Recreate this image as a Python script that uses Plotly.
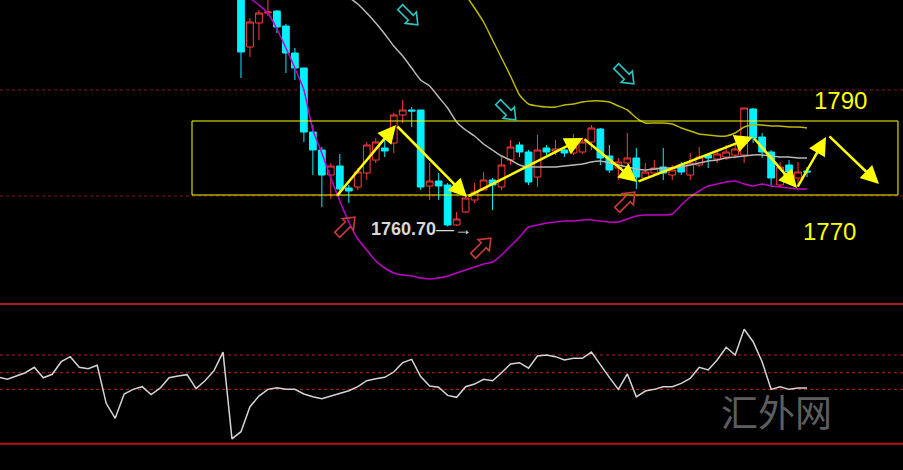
import math
import plotly.graph_objects as go

# ---------------- data ----------------
candle_idx = list(range(64))
opens = [1809.0, 1796.6, 1801.4, 1803.4, 1803.8, 1800.8, 1795.4, 1792.4, 1779.6, 1776.0,
         1771.0, 1772.8, 1768.4, 1768.6, 1771.4, 1774.0, 1776.4, 1777.4, 1783.0, 1784.0,
         1784.0, 1768.8, 1769.8, 1769.0, 1761.0, 1763.6, 1766.0, 1768.0, 1770.0, 1768.6,
         1774.0, 1777.0, 1775.6, 1770.6, 1776.4, 1775.8, 1776.0, 1775.4, 1775.6, 1777.6,
         1780.2, 1774.8, 1772.4, 1773.4, 1774.4, 1770.4, 1771.4, 1772.6, 1771.0, 1773.0,
         1771.0, 1773.0, 1775.0, 1774.2, 1774.6, 1775.0, 1775.0, 1784.2, 1778.6, 1775.6,
         1769.0, 1773.0, 1770.4, 1771.8]
highs = [1810.0, 1802.4, 1804.0, 1806.0, 1804.0, 1801.2, 1796.4, 1792.4, 1781.0, 1776.6,
         1773.4, 1775.2, 1769.0, 1772.4, 1777.6, 1778.4, 1778.0, 1783.4, 1786.0, 1784.6,
         1784.0, 1773.4, 1771.4, 1769.4, 1763.6, 1767.0, 1769.4, 1771.6, 1770.4, 1774.6,
         1778.0, 1777.6, 1776.0, 1779.0, 1777.0, 1778.0, 1776.6, 1779.2, 1778.4, 1781.0,
         1780.4, 1777.0, 1774.4, 1779.4, 1776.4, 1773.4, 1774.0, 1776.4, 1773.0, 1773.6,
         1775.4, 1776.6, 1775.0, 1776.0, 1777.0, 1777.0, 1784.4, 1784.4, 1779.4, 1776.0,
         1773.6, 1774.0, 1773.6, 1772.6]
lows = [1790.4, 1794.6, 1798.0, 1802.8, 1799.4, 1791.4, 1790.0, 1777.6, 1771.0, 1764.6,
        1766.2, 1767.0, 1765.4, 1768.0, 1770.0, 1773.4, 1774.6, 1775.4, 1781.4, 1780.6,
        1768.0, 1766.0, 1766.0, 1760.7, 1760.8, 1763.4, 1765.4, 1768.0, 1764.0, 1768.0,
        1773.0, 1774.6, 1769.0, 1768.6, 1775.0, 1775.0, 1774.6, 1775.0, 1775.2, 1776.0,
        1773.0, 1771.4, 1770.0, 1770.6, 1768.2, 1770.0, 1771.0, 1770.0, 1770.0, 1771.0,
        1770.0, 1772.6, 1772.4, 1773.4, 1774.0, 1774.4, 1773.4, 1777.4, 1774.4, 1769.0,
        1768.6, 1770.4, 1768.6, 1770.6]
closes = [1795.6, 1801.6, 1803.4, 1803.6, 1800.6, 1795.4, 1792.4, 1779.6, 1776.0, 1771.0,
          1772.8, 1768.2, 1767.8, 1771.6, 1777.0, 1777.6, 1775.8, 1783.0, 1784.0, 1783.8,
          1768.6, 1769.8, 1768.8, 1761.0, 1762.2, 1766.4, 1767.6, 1770.0, 1769.0, 1773.0,
          1776.6, 1775.6, 1769.6, 1776.0, 1775.6, 1776.2, 1775.4, 1776.6, 1777.6, 1780.4,
          1774.4, 1772.0, 1773.6, 1774.4, 1770.6, 1771.6, 1772.4, 1771.4, 1772.0, 1771.6,
          1773.4, 1774.6, 1774.4, 1775.2, 1775.6, 1776.2, 1784.4, 1778.4, 1775.6, 1770.4,
          1772.6, 1771.6, 1771.6, 1771.6]

ma_idx = list(range(11, 64))
ma_vals = [1808.6, 1806.6, 1805.2, 1803.4, 1801.4, 1799.2, 1796.8, 1794.8, 1792.4, 1790.0,
           1788.8, 1786.6, 1784.4, 1781.6, 1780.0, 1778.8, 1777.2, 1776.0, 1774.8, 1774.0,
           1773.0, 1772.6, 1772.6, 1772.6, 1772.6, 1772.8, 1773.0, 1773.2, 1773.6, 1773.8,
           1773.4, 1773.0, 1772.6, 1772.2, 1772.0, 1772.2, 1772.4, 1772.4, 1772.6, 1773.0,
           1773.4, 1773.8, 1774.0, 1774.4, 1774.6, 1774.8, 1775.0, 1775.0, 1774.8, 1774.6,
           1774.6, 1774.4, 1774.4]

upper_idx = list(range(25, 64))
upper_vals = [1807.0, 1804.4, 1801.6, 1798.0, 1794.4, 1790.8, 1787.0, 1785.2, 1784.8, 1784.6,
              1784.6, 1785.0, 1785.2, 1785.6, 1785.8, 1785.8, 1785.6, 1784.8, 1784.0, 1782.4,
              1781.4, 1781.4, 1781.4, 1781.2, 1780.4, 1779.8, 1779.2, 1779.0, 1778.8, 1778.8,
              1779.4, 1780.6, 1781.0, 1781.0, 1780.8, 1780.8, 1780.6, 1780.6, 1780.4]

lower_idx = list(range(1, 64))
lower_vals = [1806.4, 1805.0, 1803.4, 1800.2, 1796.4, 1792.4, 1788.0, 1780.0, 1775.4, 1770.4,
              1765.8, 1761.6, 1758.2, 1756.0, 1753.8, 1752.4, 1751.4, 1751.0, 1750.8, 1750.4,
              1750.2, 1750.4, 1750.8, 1751.4, 1752.0, 1752.6, 1753.2, 1753.6, 1755.0, 1756.8,
              1758.6, 1760.6, 1761.0, 1761.4, 1761.6, 1761.8, 1761.8, 1762.0, 1762.0, 1761.8,
              1761.6, 1761.6, 1762.2, 1762.8, 1763.0, 1763.0, 1763.0, 1763.2, 1765.0, 1766.6,
              1767.8, 1768.8, 1769.2, 1769.6, 1769.8, 1769.2, 1768.8, 1769.2, 1768.8, 1768.6,
              1768.4, 1768.2, 1768.2]

ind_idx = list(range(-27, 64))
ind_vals = [47.7, 46.1, 48.5, 50.8, 54.7, 47.2, 49.7, 58.7, 62.3, 54.7,
            53.7, 56.1, 28.9, 18.2, 35.6, 38.9, 40.8, 35.1, 39.7, 47.2,
            48.5, 49.4, 39.4, 45.1, 52.3, 65.6, 3.4,
            8.6, 26.5, 34.1, 38.9, 40.1, 38.9, 38.9, 35.6, 33.6, 32.2,
            34.1, 36.5, 37.9, 40.8, 45.1, 46.5, 47.5, 51.3, 58.0, 60.4,
            48.0, 41.3, 40.4, 34.6, 33.2, 40.8, 42.7, 46.1, 45.1, 50.8,
            57.1, 58.0, 54.0, 62.8, 63.5, 62.3, 59.9, 61.1, 61.1, 65.6,
            56.3, 47.5, 38.9, 49.9, 33.6, 37.7, 38.9, 40.8, 40.8, 43.2,
            46.8, 54.7, 52.8, 59.9, 69.0, 63.5, 81.9, 73.0, 58.7, 38.9,
            40.8, 38.9, 39.9, 39.9]

price_levels = [1788.0, 1766.8]
ind_solid_levels = [100.0, 0.0]
ind_dot_levels = [63.5, 50.8, 38.9]
range_box = dict(x0=-5.45, x1=73.12, y0=1767.0, y1=1781.8)

# yellow trend arrows: (start idx, start price, end idx, end price)
trend_arrows = [
    (10.57, 1766.6, 17.25, 1781.0),
    (17.25, 1781.0, 25.15, 1766.6),
    (25.15, 1766.6, 38.06, 1778.4),
    (38.06, 1778.4, 44.07, 1769.6),
    (44.07, 1769.6, 56.98, 1778.6),
    (56.98, 1778.6, 61.88, 1768.4),
    (61.88, 1768.4, 65.11, 1778.6),
    (65.33, 1779.0, 71.01, 1769.2),
]
down_marks = [(18.70, 1802.8), (42.74, 1791.0), (29.60, 1783.8)]
up_marks = [(11.69, 1760.8), (26.82, 1756.6), (42.85, 1765.8)]

# ---------------- figure ----------------
fig = go.Figure()

fig.add_trace(go.Candlestick(
    x=candle_idx, open=opens, high=highs, low=lows, close=closes,
    increasing=dict(line=dict(color='#ff3b3b', width=1), fillcolor='#000000'),
    decreasing=dict(line=dict(color='#00f0ff', width=1), fillcolor='#00f0ff'),
    whiskerwidth=0, hoverinfo='skip', xaxis='x', yaxis='y'))

fig.add_trace(go.Scatter(x=ma_idx, y=ma_vals, mode='lines',
                         line=dict(color='#b8b8b8', width=1.5, shape='spline', smoothing=0.6),
                         xaxis='x', yaxis='y', hoverinfo='skip'))
fig.add_trace(go.Scatter(x=upper_idx, y=upper_vals, mode='lines',
                         line=dict(color='#bdb800', width=1.5, shape='spline', smoothing=0.6),
                         xaxis='x', yaxis='y', hoverinfo='skip'))
fig.add_trace(go.Scatter(x=lower_idx, y=lower_vals, mode='lines',
                         line=dict(color='#c000c8', width=1.5, shape='spline', smoothing=0.6),
                         xaxis='x', yaxis='y', hoverinfo='skip'))
fig.add_trace(go.Scatter(x=ind_idx, y=ind_vals, mode='lines',
                         line=dict(color='#d4d4d4', width=1.5),
                         xaxis='x', yaxis='y2', hoverinfo='skip'))

shapes = []
for lv in price_levels:
    shapes.append(dict(type='line', xref='paper', x0=0, x1=1, yref='y', y0=lv, y1=lv,
                       line=dict(color='#8c1414', width=1, dash='dot'), layer='below'))
for lv in ind_solid_levels:
    shapes.append(dict(type='line', xref='paper', x0=0, x1=1, yref='y2', y0=lv, y1=lv,
                       line=dict(color='#b01818', width=2), layer='below'))
for lv in ind_dot_levels:
    shapes.append(dict(type='line', xref='paper', x0=0, x1=1, yref='y2', y0=lv, y1=lv,
                       line=dict(color='#c01c1c', width=1, dash='dot'), layer='below'))
shapes.append(dict(type='rect', xref='x', yref='y', **range_box,
                   line=dict(color='#ffff00', width=1), fillcolor='rgba(0,0,0,0)'))


def hollow_arrow_path(angle_deg, L=25, h=10, H=16, w=7):
    pts = [(-L / 2, -w / 2), (L / 2 - h, -w / 2), (L / 2 - h, -H / 2), (L / 2, 0),
           (L / 2 - h, H / 2), (L / 2 - h, w / 2), (-L / 2, w / 2)]
    a = math.radians(angle_deg)
    ca, sa = math.cos(a), math.sin(a)
    rp = [(px * ca - py * sa, px * sa + py * ca) for px, py in pts]
    return 'M ' + ' L '.join(f'{px:.2f},{py:.2f}' for px, py in rp) + ' Z'


for (ax_, ay_) in down_marks:
    shapes.append(dict(type='path', xref='x', yref='y', xsizemode='pixel', ysizemode='pixel',
                       xanchor=ax_, yanchor=ay_, path=hollow_arrow_path(-45),
                       line=dict(color='#2ec4c4', width=1.6), fillcolor='rgba(0,0,0,0)'))
for (ax_, ay_) in up_marks:
    shapes.append(dict(type='path', xref='x', yref='y', xsizemode='pixel', ysizemode='pixel',
                       xanchor=ax_, yanchor=ay_, path=hollow_arrow_path(45),
                       line=dict(color='#c83a3a', width=1.6), fillcolor='rgba(0,0,0,0)'))

annotations = []
for (x0, y0, x1, y1) in trend_arrows:
    annotations.append(dict(x=x1, y=y1, ax=x0, ay=y0, xref='x', yref='y', axref='x', ayref='y',
                            text='', showarrow=True, arrowhead=2, arrowsize=1.45, arrowwidth=2.5,
                            arrowcolor='#ffff00', standoff=0, startstandoff=0))

font_main = 'Liberation Sans, Arial, sans-serif'
annotations.append(dict(x=66.67, y=1786.0, xref='x', yref='y', text='1790', showarrow=False,
                        font=dict(family=font_main, size=24, color='#ffff00')))
annotations.append(dict(x=65.55, y=1759.8, xref='x', yref='y', text='1770', showarrow=False,
                        font=dict(family=font_main, size=24, color='#ffff00')))
annotations.append(dict(x=14.25, y=1760.2, xref='x', yref='y', xanchor='left',
                        text='<b>1760.70</b>—→', showarrow=False,
                        font=dict(family=font_main, size=18, color='#d8d8d8')))
annotations.append(dict(x=0.9236, y=0.064, xref='paper', yref='paper', text='汇外网',
                        showarrow=False,
                        font=dict(family='Noto Sans CJK SC', size=37, color='rgba(150,150,150,0.65)')))

fig.update_layout(
    width=903, height=470,
    margin=dict(l=0, r=0, t=0, b=0),
    paper_bgcolor='#000000', plot_bgcolor='#000000',
    showlegend=False,
    boxgap=0.25, boxgroupgap=0,
    xaxis=dict(range=[-26.82, 73.68], visible=False, rangeslider=dict(visible=False),
               showgrid=False, zeroline=False),
    yaxis=dict(domain=[0.3617, 1], range=[1746, 1806], visible=False, showgrid=False,
               zeroline=False, anchor='x'),
    yaxis2=dict(domain=[0, 0.3617], range=[-18.83, 102.86], visible=False, showgrid=False,
                zeroline=False, anchor='x'),
    shapes=shapes,
    annotations=annotations,
)

fig.write_html('out.html', config={'displayModeBar': False},
               post_script="document.body.style.margin='0';document.body.style.background='#000';")
